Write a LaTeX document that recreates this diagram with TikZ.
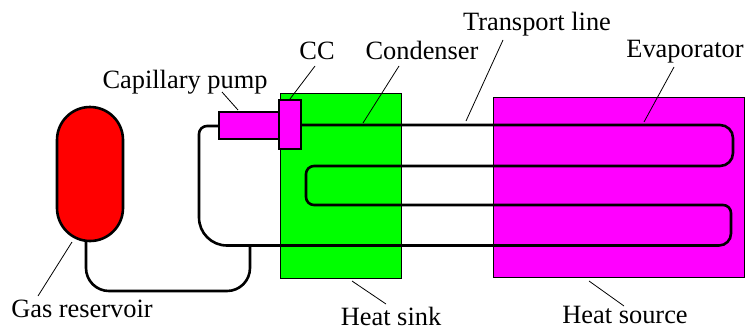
\documentclass[tikz,border=0pt]{standalone}
\usepackage{fontspec}
\setmainfont{Liberation Serif}
\definecolor{sinkgreen}{RGB}{0,255,0}
\definecolor{hotpink}{RGB}{255,0,255}
\definecolor{tankred}{RGB}{255,0,0}
\begin{document}
\begin{tikzpicture}[
  x=0.5pt, y=-0.5pt,
  plate/.style={rectangle, draw=black, line width=0.45pt, inner sep=0pt, outer sep=0pt, anchor=north west},
  part/.style={rectangle, draw=black, line width=1.3pt, inner sep=0pt, outer sep=0pt, anchor=north west},
  pipe/.style={draw=black, line width=1.3pt},
  leader/.style={draw=black, line width=0.4pt},
  lbl/.style={font=\fontsize{13.2}{15}\selectfont, inner sep=0pt, anchor=base},
]
\useasboundingbox (0,0) rectangle (747,333);

\node[plate, fill=sinkgreen, minimum width=60.5pt, minimum height=92.5pt] (sink) at (280,93) {};
\node[plate, fill=hotpink, minimum width=125.5pt, minimum height=90pt] (source) at (493,97) {};
\node[part, fill=tankred, rounded corners=16.5pt, minimum width=33pt, minimum height=67pt] (reservoir) at (57,107) {};

% pipe runs
\coordinate (capin) at (219,126);
\coordinate (tee) at (250,245.5);
\coordinate (resout) at (86,241);
\coordinate (ccout) at (301,125);
\draw[pipe, rounded corners=6.5pt] (ccout) -- (733,125) -- (733,166)
  [rounded corners=4pt] -- (306,166) -- (306,205) -- (731,205)
  [rounded corners=6pt] -- (731,245.5)
  [rounded corners=14pt] -- (199,245.5)
  [rounded corners=4pt] -- (199,126) -- (capin);
\draw[pipe, rounded corners=11.5pt] (resout) -- (86,291) -- (250,291) -- (tee);

\node[part, fill=hotpink, minimum width=30.5pt, minimum height=13.5pt] (pump) at (219,112) {};
\node[part, fill=hotpink, minimum width=11pt, minimum height=24.5pt] (cc) at (279,100) {};

\node[lbl] (lpump) at (185,88) {Capillary pump};
\node[lbl] (lcc) at (317,59) {CC};
\node[lbl] (lcond) at (422,59) {Condenser};
\node[lbl] (ltrans) at (537,30) {Transport line};
\node[lbl] (levap) at (685,57) {Evaporator};
\node[lbl] (lres) at (82,317) {Gas reservoir};
\node[lbl] (lsink) at (391,325) {Heat sink};
\node[lbl] (lsource) at (625,323) {Heat source};

\coordinate (a1) at (222,92);
\coordinate (a2) at (238,110);
\coordinate (b1) at (315,66);
\coordinate (b2) at (290,99);
\coordinate (c1) at (399,66);
\coordinate (c2) at (363,123);
\coordinate (d1) at (503,40);
\coordinate (d2) at (466,121);
\coordinate (e1) at (674,67);
\coordinate (e2) at (644,122);
\coordinate (f1) at (72,242);
\coordinate (f2) at (38,296);
\coordinate (g1) at (352,281);
\coordinate (g2) at (386,304);
\coordinate (h1) at (589,281);
\coordinate (h2) at (624,306);
\draw[leader] (a1) -- (a2);
\draw[leader] (b1) -- (b2);
\draw[leader] (c1) -- (c2);
\draw[leader] (d1) -- (d2);
\draw[leader] (e1) -- (e2);
\draw[leader] (f1) -- (f2);
\draw[leader] (g1) -- (g2);
\draw[leader] (h1) -- (h2);
\end{tikzpicture}
\end{document}
